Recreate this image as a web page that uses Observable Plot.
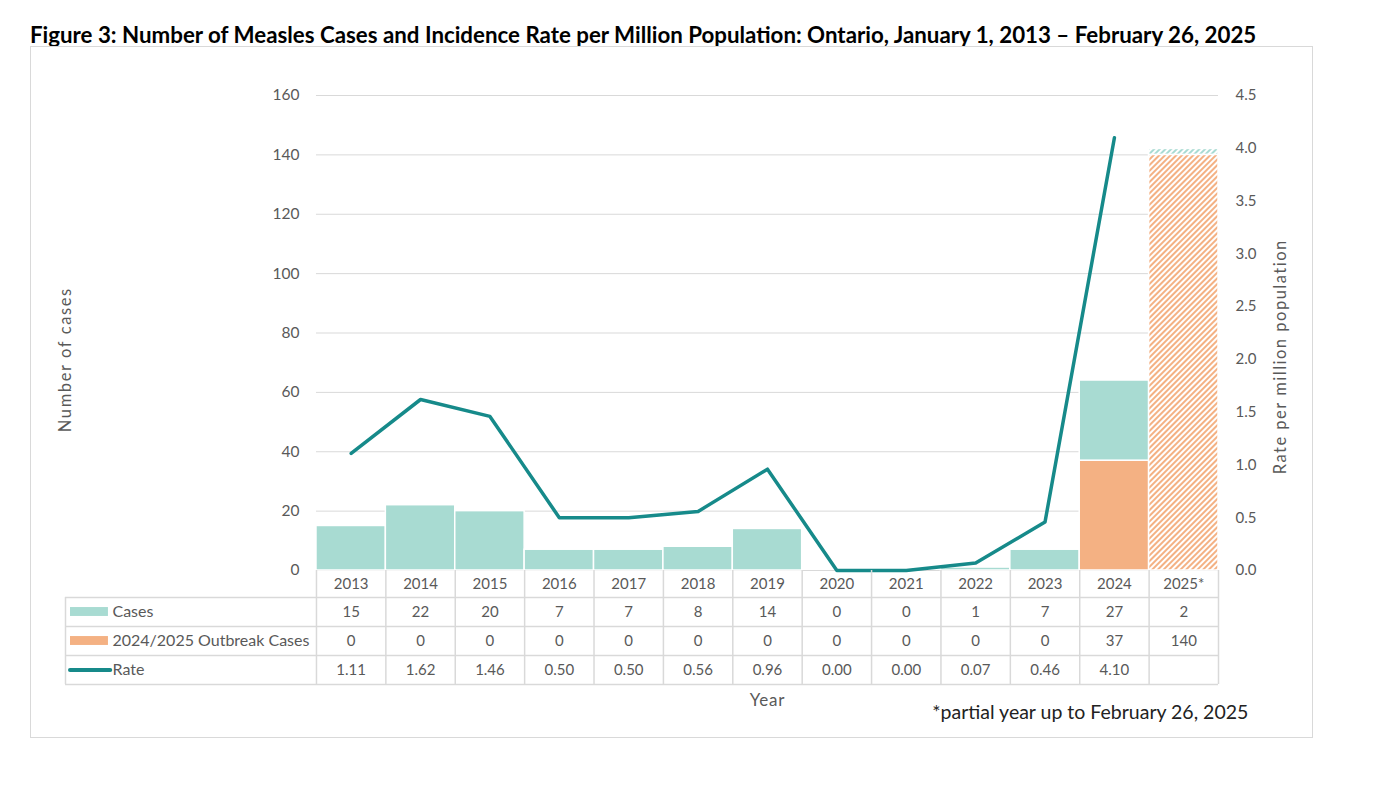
<!DOCTYPE html>
<html><head><meta charset="utf-8">
<script src="https://cdn.jsdelivr.net/npm/d3@7"></script>
<script src="https://cdn.jsdelivr.net/npm/@observablehq/plot@0.6"></script>
<style>
body{margin:0;background:#fff;width:1390px;height:806px;position:relative;font-family:Lato,"Open Sans",sans-serif;}
#title{position:absolute;left:30px;top:21px;font-weight:bold;font-size:22.3px;color:#000;white-space:nowrap;}
#box{position:absolute;left:30px;top:46px;width:1281px;height:690px;border:1px solid #d9d9d9;}
#chart{position:absolute;left:0;top:46px;}
</style></head>
<body>
<div id="title">Figure 3: Number of Measles Cases and Incidence Rate per Million Population: Ontario, January 1, 2013 – February 26, 2025</div>
<div id="box"></div>
<div id="chart"></div>
<script>
const years = ["2013","2014","2015","2016","2017","2018","2019","2020","2021","2022","2023","2024","2025*"];
const cases = [15,22,20,7,7,8,14,0,0,1,7,27,2];
const outbreak = [0,0,0,0,0,0,0,0,0,0,0,37,140];
const rate = [1.11,1.62,1.46,0.50,0.50,0.56,0.96,0.00,0.00,0.07,0.46,4.10,null];
const partial = [false,false,false,false,false,false,false,false,false,false,false,false,true];
const caseTicks = [0,20,40,60,80,100,120,140,160];
const rateTicks = [0,0.5,1.0,1.5,2.0,2.5,3.0,3.5,4.0,4.5];
const rowNames = ["Cases","2024/2025 Outbreak Cases","Rate"];

const cTeal = "#a8dbd2", cOrange = "#f4b183", cLine = "#168a8a", cGrid = "#d9d9d9", cText = "#595959";
const k = 160 / 4.5;               // rate -> cases units
const pxPerUnit = 475 / 160;
const u = px => -px / pxPerUnit;   // table offsets (px below zero line) -> y units
const rowB = [0, u(27), u(56), u(85), u(114)];
const rowC = rowB.slice(0, 4).map((b, i) => (b + rowB[i + 1]) / 2);
const labelLeft = -3.617, n = years.length;

const idx = years.map((_, i) => i);
const segs = [];
idx.forEach(i => {
  segs.push({i, y1: 0, y2: outbreak[i], kind: "o", p: partial[i]});
  segs.push({i, y1: outbreak[i], y2: outbreak[i] + cases[i], kind: "c", p: partial[i]});
});
const segsV = segs.filter(d => d.y2 > d.y1);

const rateData = idx.filter(i => rate[i] != null).map(i => ({i, r: rate[i]}));
const cells = [];
idx.forEach(i => {
  cells.push({i, y: rowC[0], t: years[i]});
  cells.push({i, y: rowC[1], t: String(cases[i])});
  cells.push({i, y: rowC[2], t: String(outbreak[i])});
  cells.push({i, y: rowC[3], t: rate[i] == null ? "" : rate[i].toFixed(2)});
});

const chart = Plot.plot({
  width: 1390, height: 692,
  marginLeft: 65, marginRight: 172, marginTop: 49, marginBottom: 54,
  x: {domain: [labelLeft, n], axis: null},
  y: {domain: [rowB[4], 160], axis: null},
  style: {fontFamily: "Lato, 'Open Sans', sans-serif", fontSize: "14px", color: cText, background: "transparent", overflow: "visible"},
  marks: [
    Plot.ruleY(caseTicks, {y: d => d, x1: 0, x2: n, stroke: cGrid, strokeWidth: 1}),
    Plot.rect(segsV.filter(d => !d.p), {x1: d => d.i, x2: d => d.i + 1, y1: "y1", y2: "y2", fill: d => d.kind === "o" ? cOrange : cTeal, stroke: "white", strokeWidth: 1.5}),
    Plot.rect(segsV.filter(d => d.p && d.kind === "o"), {x1: d => d.i, x2: d => d.i + 1, y1: "y1", y2: "y2", fill: "url(#hatchO)", stroke: "white", strokeWidth: 1.5}),
    Plot.rect(segsV.filter(d => d.p && d.kind === "c"), {x1: d => d.i, x2: d => d.i + 1, y1: "y1", y2: "y2", fill: "url(#hatchC)", stroke: "white", strokeWidth: 1.5}),
    Plot.line(rateData, {x: d => d.i + 0.5, y: d => d.r * k, stroke: cLine, strokeWidth: 3.5, strokeLinejoin: "round", strokeLinecap: "round"}),
    // left axis labels
    Plot.text(caseTicks, {x: 0, y: d => d, text: d => String(d), textAnchor: "end", dx: -17, fill: cText, fontSize: 15.5}),
    // right axis labels
    Plot.text(rateTicks, {x: n, y: d => d * k, text: d => d.toFixed(1), textAnchor: "start", dx: 17, fill: cText, fontSize: 15}),
    Plot.text(["Number of cases"], {x: labelLeft, y: 71, rotate: -90, text: d => d, fill: cText, fontSize: 16.5}),
    Plot.text(["Rate per million population"], {x: n + 0.9, y: 72, rotate: -90, text: d => d, fill: cText, fontSize: 16.5}),
    // table grid
    Plot.ruleY(rowB.slice(1), {y: d => d, x1: labelLeft, x2: n, stroke: cGrid, strokeWidth: 1.5}),
    Plot.ruleX([labelLeft], {x: d => d, y1: rowB[1], y2: rowB[4], stroke: cGrid, strokeWidth: 1.5}),
    Plot.ruleX(d3.range(0, n + 1), {x: d => d, y1: rowB[0], y2: rowB[4], stroke: cGrid, strokeWidth: 1.5}),
    Plot.text(cells, {x: d => d.i + 0.5, y: "y", text: "t", fill: cText, fontSize: 15}),
    // row labels + swatches
    Plot.rect([0, 1], {x1: -3.545, x2: -2.998, y1: d => rowC[d + 1] - 1.5, y2: d => rowC[d + 1] + 1.5, fill: d => d === 0 ? cTeal : cOrange}),
    Plot.ruleY([2], {y: d => rowC[d + 1], x1: -3.545, x2: -2.965, stroke: cLine, strokeWidth: 4, strokeLinecap: "round"}),
    Plot.text(rowNames, {x: -2.94, y: (d, i) => rowC[i + 1], text: d => d, textAnchor: "start", fill: cText, fontSize: 16}),
    Plot.text(["Year"], {x: n / 2, y: u(130), text: d => d, fill: cText, fontSize: 17}),
    Plot.text(["*partial year up to February 26, 2025"], {x: n + 0.43, y: u(142), text: d => d, textAnchor: "end", fill: "#222", fontSize: 19.5})
  ]
});

const ns = "http://www.w3.org/2000/svg";
const defs = document.createElementNS(ns, "defs");
function hatch(id, color) {
  const p = document.createElementNS(ns, "pattern");
  p.setAttribute("id", id); p.setAttribute("patternUnits", "userSpaceOnUse");
  p.setAttribute("width", "4"); p.setAttribute("height", "4");
  p.setAttribute("patternTransform", "rotate(45)");
  const r = document.createElementNS(ns, "rect");
  r.setAttribute("width", "4"); r.setAttribute("height", "4"); r.setAttribute("fill", "white");
  const l = document.createElementNS(ns, "line");
  l.setAttribute("x1", "1"); l.setAttribute("y1", "0"); l.setAttribute("x2", "1"); l.setAttribute("y2", "4");
  l.setAttribute("stroke", color); l.setAttribute("stroke-width", "2");
  p.appendChild(r); p.appendChild(l); defs.appendChild(p);
}
hatch("hatchO", cOrange); hatch("hatchC", cTeal);
chart.insertBefore(defs, chart.firstChild);
// wider letter spacing on axis titles, as in the reference
chart.querySelectorAll("text").forEach(t => {
  if (t.textContent === "Number of cases") t.setAttribute("letter-spacing", "1.6");
  if (t.textContent === "Rate per million population") t.setAttribute("letter-spacing", "1.5");
  if (t.textContent === "Year") t.setAttribute("letter-spacing", "0.8");
});
document.getElementById("chart").appendChild(chart);
</script>
</body></html>
